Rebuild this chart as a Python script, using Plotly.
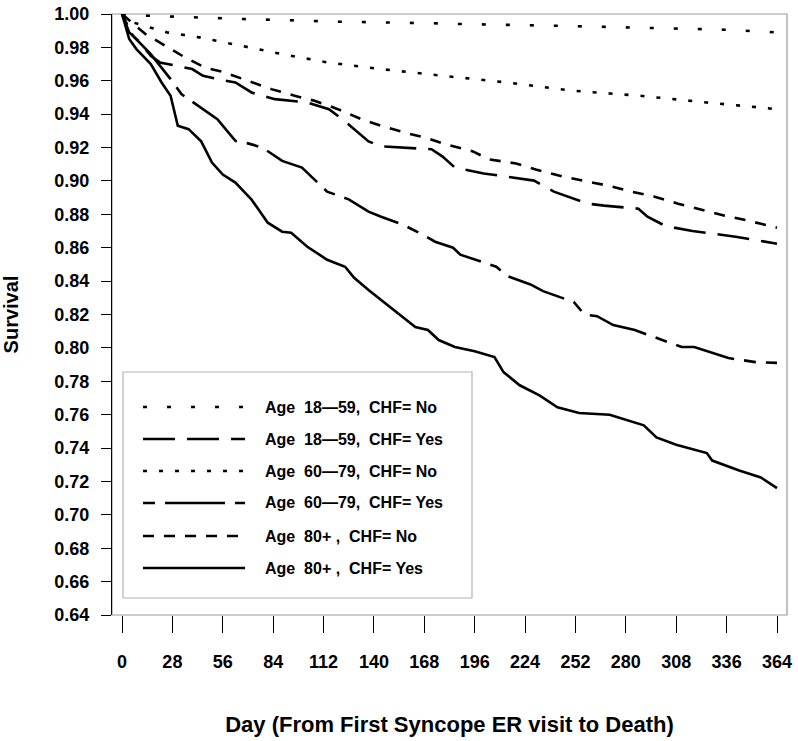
import plotly.graph_objects as go

# ---- data ----
series_names = [
    "Age  18\u201459,  CHF= No",
    "Age  18\u201459,  CHF= Yes",
    "Age  60\u201479,  CHF= No",
    "Age  60\u201479,  CHF= Yes",
    "Age  80+ ,  CHF= No",
    "Age  80+ ,  CHF= Yes",
]

days_a = [0, 14, 67, 121, 175, 188, 240, 294, 335, 364]
surv_a = [1.0, 0.999, 0.997, 0.9954, 0.9944, 0.994, 0.993, 0.9914, 0.9906, 0.989]

days_b = [0, 4, 10, 16, 21, 30, 39, 45, 53, 63, 72, 78, 85, 103, 115, 124, 137, 144, 172, 178,
          185, 201, 219, 229, 240, 259, 268, 287, 292, 302, 317, 341, 364]
surv_b = [1.0, 0.989, 0.983, 0.975, 0.971, 0.969, 0.967, 0.963, 0.961, 0.959, 0.953, 0.951, 0.949,
          0.947, 0.943, 0.9357, 0.9237, 0.9207, 0.919, 0.9147, 0.908, 0.9045, 0.902, 0.9002, 0.8936,
          0.8864, 0.8852, 0.8834, 0.8786, 0.873, 0.870, 0.8666, 0.8624]

days_c = [0, 3, 12, 25, 43, 52, 70, 89, 114, 144, 178, 214, 251, 288, 325, 364]
surv_c = [1.0, 0.996, 0.993, 0.989, 0.986, 0.984, 0.980, 0.976, 0.971, 0.967, 0.963, 0.959, 0.954,
          0.951, 0.947, 0.943]

days_d = [0, 6, 16, 27, 33, 44, 53, 63, 70, 78, 89, 100, 106, 114, 126, 137, 144, 156, 167, 174,
          184, 188, 208, 214, 227, 234, 251, 257, 264, 273, 285, 296, 311, 318, 337, 352, 364]
surv_d = [1.0, 0.987, 0.976, 0.961, 0.952, 0.944, 0.937, 0.924, 0.9225, 0.920, 0.912, 0.908, 0.902,
          0.8936, 0.889, 0.8816, 0.8786, 0.8738, 0.868, 0.8636, 0.860, 0.8558, 0.8486, 0.843, 0.838,
          0.834, 0.8275, 0.820, 0.819, 0.8137, 0.8107, 0.8065, 0.8005, 0.8005, 0.7939, 0.7915, 0.791]

days_e = [0, 13, 24, 35, 46, 57, 70, 83, 96, 107, 120, 133, 144, 157, 170, 180, 195, 204, 219, 230,
          245, 257, 270, 283, 296, 309, 322, 335, 348, 364]
surv_e = [1.0, 0.988, 0.981, 0.974, 0.968, 0.965, 0.960, 0.955, 0.951, 0.948, 0.943, 0.937, 0.933,
          0.929, 0.9255, 0.9219, 0.9177, 0.9129, 0.9105, 0.9069, 0.9026, 0.900, 0.8972, 0.8936,
          0.8906, 0.8864, 0.8828, 0.8792, 0.8762, 0.872]

days_f = [0, 4, 8, 16, 22, 27, 31, 37, 44, 50, 56, 63, 72, 81, 89, 94, 103, 114, 124, 129, 137, 146,
          156, 163, 170, 176, 185, 196, 207, 212, 221, 232, 242, 254, 271, 290, 297, 308, 325, 328,
          343, 355, 364]
surv_f = [1.0, 0.985, 0.979, 0.970, 0.959, 0.951, 0.933, 0.931, 0.9237, 0.911, 0.9038, 0.899, 0.8888,
          0.875, 0.8696, 0.869, 0.8606, 0.8528, 0.8486, 0.842, 0.8347, 0.8269, 0.8185, 0.8125, 0.8107,
          0.8047, 0.8005, 0.798, 0.7945, 0.7855, 0.7776, 0.7716, 0.7644, 0.761, 0.760, 0.7536, 0.7464,
          0.742, 0.737, 0.7325, 0.7265, 0.7224, 0.716]

x_ticks = [0, 28, 56, 84, 112, 140, 168, 196, 224, 252, 280, 308, 336, 364]
y_ticks = [0.64, 0.66, 0.68, 0.70, 0.72, 0.74, 0.76, 0.78, 0.80, 0.82, 0.84, 0.86, 0.88, 0.90,
           0.92, 0.94, 0.96, 0.98, 1.00]

# ---- styling ----
all_days = [days_a, days_b, days_c, days_d, days_e, days_f]
all_surv = [surv_a, surv_b, surv_c, surv_d, surv_e, surv_f]
dashes = ["4px,20px", "32px,12px", "4px,12px", "12px,10px,60px,10px", "11px,10px", "solid"]
LW = 2.6
FONT = "Liberation Sans, Arial, Helvetica, sans-serif"

# plot area in pixels: x 112..787, y 14..615
PL, PR, PT, PB = 112, 787, 14, 615
PW, PH = PR - PL, PB - PT


def px(x):
    return (x - PL) / PW


def py(y):
    return (PB - y) / PH


fig = go.Figure()
for name, d, s, dash in zip(series_names, all_days, all_surv, dashes):
    fig.add_trace(go.Scatter(x=d, y=s, mode="lines", name=name,
                             line=dict(color="black", width=LW, dash=dash),
                             showlegend=False, hoverinfo="skip"))

# plot frame
fig.add_shape(type="rect", xref="paper", yref="paper", x0=0, x1=1, y0=0, y1=1,
              line=dict(color="#9a9a9a", width=1.2), layer="below")

# custom legend box (long line samples like the original)
fig.add_shape(type="rect", xref="paper", yref="paper", x0=px(123), x1=px(472), y0=py(598), y1=py(372),
              line=dict(color="#b4b4b4", width=1.2), fillcolor="white", layer="above")
row_y = [407, 439, 471, 503, 536, 568]
for name, dash, ry in zip(series_names, dashes, row_y):
    fig.add_shape(type="line", xref="paper", yref="paper", x0=px(143), x1=px(245),
                  y0=py(ry), y1=py(ry), line=dict(color="black", width=LW, dash=dash), layer="above")
    fig.add_annotation(xref="paper", yref="paper", x=px(264), y=py(ry), text=name,
                       showarrow=False, xanchor="left", yanchor="middle", borderpad=0,
                       font=dict(family=FONT, size=16, color="black", weight="bold"))

fig.update_layout(
    width=798, height=741,
    margin=dict(l=PL, r=798 - PR, t=PT, b=741 - PB, autoexpand=False),
    paper_bgcolor="white", plot_bgcolor="white",
    hovermode=False,
    xaxis=dict(range=[-10 / 1.7995, 364 + 10 / 1.7995], tickvals=x_ticks,
               ticktext=[str(v) for v in x_ticks], automargin=False,
               showgrid=False, zeroline=False, showline=False,
               ticks="outside", ticklen=17, tickwidth=1.3, tickcolor="black",
               ticklabelstandoff=13,
               tickfont=dict(family=FONT, size=18, color="black", weight="bold"),
               title=dict(text="Day (From First Syncope ER visit to Death)", standoff=46,
                          font=dict(family=FONT, size=22, color="black", weight="bold"))),
    yaxis=dict(range=[0.64, 1.0], tickvals=y_ticks, tickformat=".2f", automargin=False,
               showgrid=False, zeroline=False, showline=True, linecolor="black", linewidth=1.3,
               ticks="outside", ticklen=10, tickwidth=1.3, tickcolor="black",
               ticklabelstandoff=8,
               tickfont=dict(family=FONT, size=18, color="black", weight="bold"),
               title=dict(text="Survival", standoff=30,
                          font=dict(family=FONT, size=20, color="black", weight="bold"))),
)

fig.write_html("out.html", config={"displayModeBar": False},
               post_script="document.body.style.margin='0';")
